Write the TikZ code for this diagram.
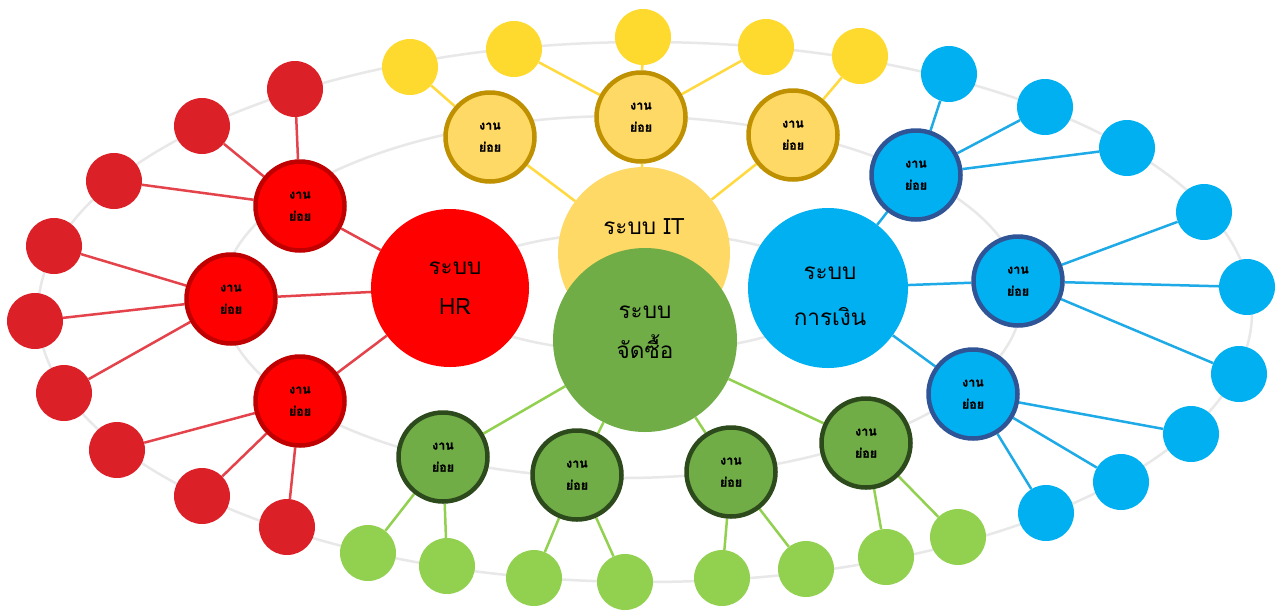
\documentclass[tikz,border=0pt]{standalone}
\usepackage{fontspec}
\newfontfamily\thai[Script=Thai]{Loma}
\newfontfamily\thaiheavy[Script=Thai, FakeBold=1.2]{Loma}

\definecolor{ringgray}{HTML}{E8E8E8}
\definecolor{hrred}{HTML}{FF0000}
\definecolor{hrdark}{HTML}{C00000}
\definecolor{hrleaf}{HTML}{DC2027}
\definecolor{hrline}{HTML}{E4434B}
\definecolor{itgold}{HTML}{FFD966}
\definecolor{itdark}{HTML}{BF9000}
\definecolor{itleaf}{HTML}{FFDA2E}
\definecolor{itline}{HTML}{FFD93D}
\definecolor{fiblue}{HTML}{00B0F0}
\definecolor{fidark}{HTML}{2F5597}
\definecolor{filine}{HTML}{1EAAE6}
\definecolor{prgreen}{HTML}{70AD47}
\definecolor{prdark}{HTML}{2D4A1C}
\definecolor{prleaf}{HTML}{92D050}

\pgfdeclarelayer{rings}
\pgfdeclarelayer{links}
\pgfsetlayers{rings,links,main}

\begin{document}
\begin{tikzpicture}[x=1pt,y=-1pt,
  hub/.style={circle, inner sep=0pt},
  hubtext/.style={align=center, font=\thai\fontsize{22.5}{40}\selectfont},
  task/.style={circle, inner sep=0pt, minimum size=89pt, line width=4.5pt,
               align=center, font=\thaiheavy\bfseries\fontsize{12.5}{22}\selectfont},
  leaf/.style={circle, inner sep=0pt, minimum size=56pt},
  ring/.style={draw=ringgray, line width=2.5pt},
  link/.style={line width=2.5pt}]

\useasboundingbox (0,0) rectangle (1276,611);

% background and guide rings
\begin{pgfonlayer}{rings}
  \fill[white] (0,0) rectangle (1276,611);
  \draw[ring] (645,312) ellipse [x radius=607pt, y radius=270pt];
  \draw[ring] (622,297) ellipse [x radius=400pt, y radius=181pt];
  \draw[ring] (639,292) ellipse [x radius=190pt, y radius=60pt];
\end{pgfonlayer}

% main systems
\node[hub, fill=itgold, minimum size=172pt,
      label={[hubtext, yshift=26pt]center:{ระบบ IT}}] (it) at (644,253) {};
\node[hub, fill=hrred, minimum size=158pt,
      label={[hubtext, xshift=5pt]center:{ระบบ\\HR}}] (hr) at (450,288) {};
\node[hub, fill=fiblue, minimum size=160pt,
      label={[hubtext, xshift=2pt, yshift=-8pt]center:{ระบบ\\[6pt]การเงิน}}] (fi) at (828,288) {};
\node[hub, fill=prgreen, minimum size=184pt,
      label={[hubtext, yshift=8pt]center:{ระบบ\\จัดซื้อ}}] (pr) at (645,340) {};

% sub tasks
\node[task, fill=hrred, draw=hrdark] (hr1) at (300,206) {งาน\\ย่อย};
\node[task, fill=hrred, draw=hrdark] (hr2) at (231,299) {งาน\\ย่อย};
\node[task, fill=hrred, draw=hrdark] (hr3) at (300,401) {งาน\\ย่อย};

\node[task, fill=itgold, draw=itdark] (it1) at (490,137) {งาน\\ย่อย};
\node[task, fill=itgold, draw=itdark] (it2) at (641,117) {งาน\\ย่อย};
\node[task, fill=itgold, draw=itdark] (it3) at (793,135) {งาน\\ย่อย};

\node[task, fill=fiblue, draw=fidark] (fi1) at (916,175) {งาน\\ย่อย};
\node[task, fill=fiblue, draw=fidark] (fi2) at (1018,281) {งาน\\ย่อย};
\node[task, fill=fiblue, draw=fidark] (fi3) at (973,394) {งาน\\ย่อย};

\node[task, fill=prgreen, draw=prdark] (pr1) at (443,457) {งาน\\ย่อย};
\node[task, fill=prgreen, draw=prdark] (pr2) at (577,475) {งาน\\ย่อย};
\node[task, fill=prgreen, draw=prdark] (pr3) at (731,472) {งาน\\ย่อย};
\node[task, fill=prgreen, draw=prdark] (pr4) at (866,443) {งาน\\ย่อย};

% leaf items
\foreach \px/\py [count=\i] in {295/89, 202/126, 114/181, 54/246, 35/321,
                                64/393, 117/450, 202/496, 287/527}
  \node[leaf, fill=hrleaf] (hrL\i) at (\px,\py) {};
\foreach \px/\py [count=\i] in {410/67, 514/49, 643/37, 766/47, 860/56}
  \node[leaf, fill=itleaf] (itL\i) at (\px,\py) {};
\foreach \px/\py [count=\i] in {949/74, 1045/107, 1127/148, 1204/212, 1247/287,
                                1239/374, 1191/434, 1121/482, 1046/513}
  \node[leaf, fill=fiblue] (fiL\i) at (\px,\py) {};
\foreach \px/\py [count=\i] in {368/553, 447/566, 534/578, 625/582,
                                722/578, 806/569, 886/557, 958/537}
  \node[leaf, fill=prleaf] (prL\i) at (\px,\py) {};

% connectors
\begin{pgfonlayer}{links}
  \foreach \a/\b in {hr/hr1, hr/hr2, hr/hr3,
                     hr1/hrL1, hr1/hrL2, hr1/hrL3,
                     hr2/hrL4, hr2/hrL5, hr2/hrL6,
                     hr3/hrL7, hr3/hrL8, hr3/hrL9}
    \draw[link, draw=hrline] (\a) -- (\b);
  \foreach \a/\b in {it/it1, it/it2, it/it3,
                     it1/itL1, it2/itL2, it2/itL3, it2/itL4, it3/itL5}
    \draw[link, draw=itline] (\a) -- (\b);
  \foreach \a/\b in {fi/fi1, fi/fi2, fi/fi3,
                     fi1/fiL1, fi1/fiL2, fi1/fiL3,
                     fi2/fiL4, fi2/fiL5, fi2/fiL6,
                     fi3/fiL7, fi3/fiL8, fi3/fiL9}
    \draw[link, draw=filine] (\a) -- (\b);
  \foreach \a/\b in {pr/pr1, pr/pr2, pr/pr3, pr/pr4,
                     pr1/prL1, pr1/prL2, pr2/prL3, pr2/prL4,
                     pr3/prL5, pr3/prL6, pr4/prL7, pr4/prL8}
    \draw[link, draw=prleaf] (\a) -- (\b);
\end{pgfonlayer}
\end{tikzpicture}
\end{document}
